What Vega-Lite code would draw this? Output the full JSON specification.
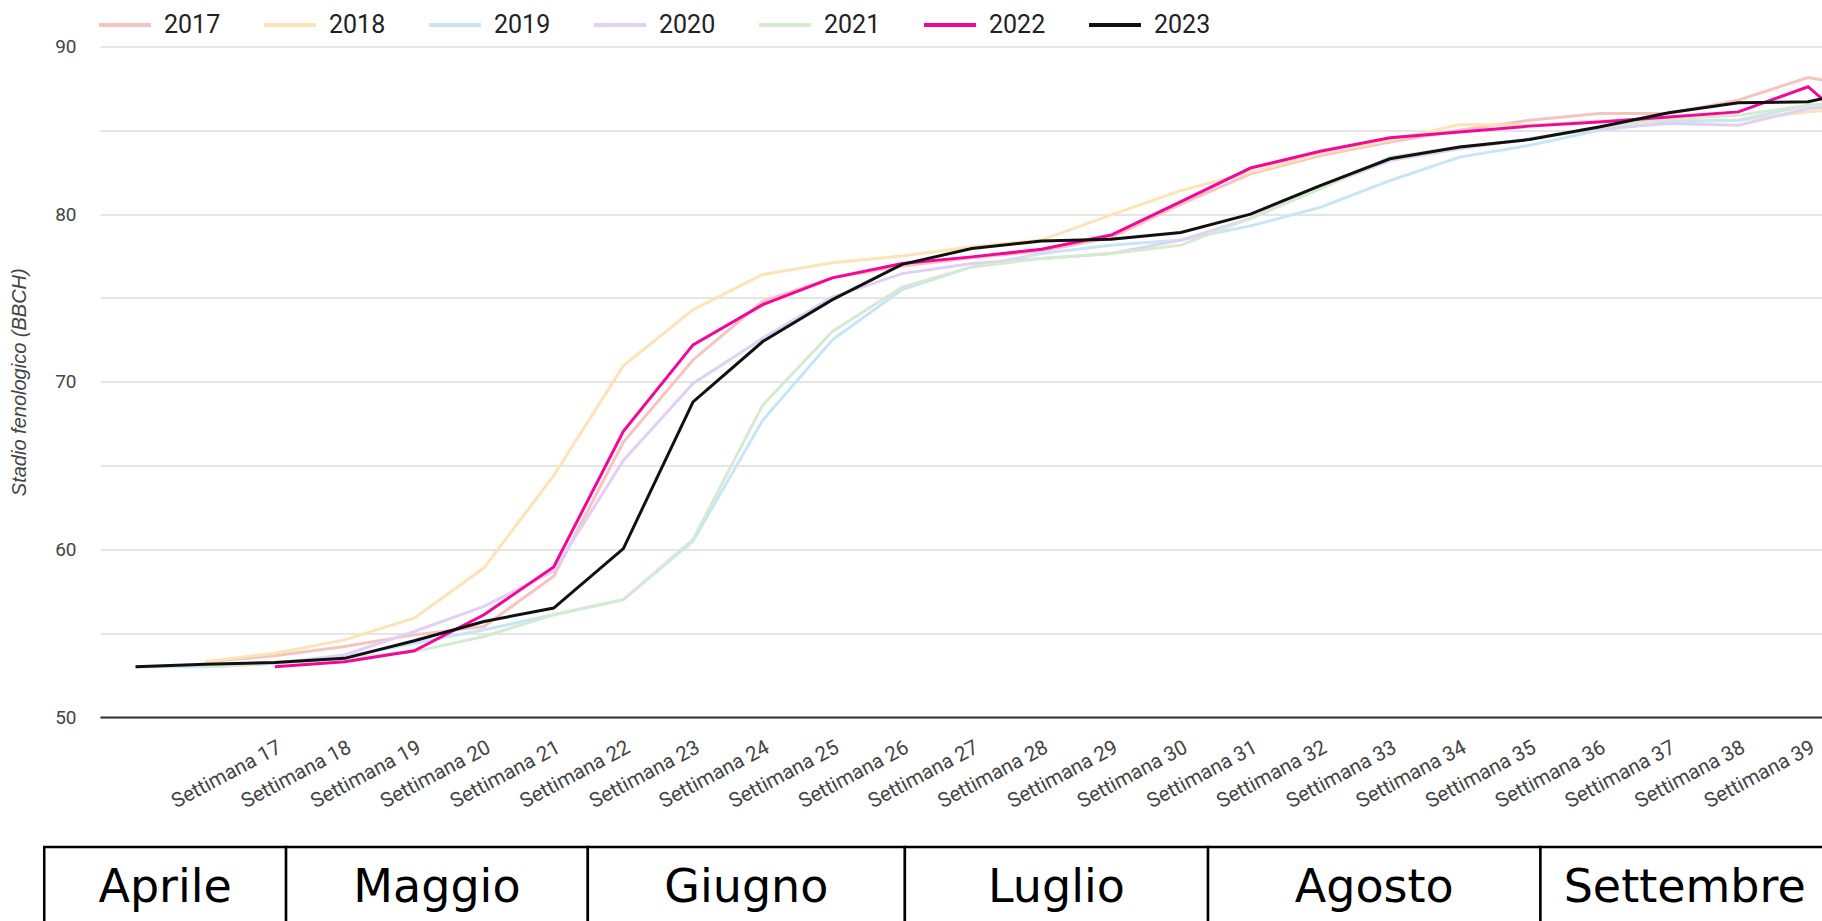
{
  "$schema": "https://vega.github.io/schema/vega-lite/v6.json",
  "autosize": {"type": "none"},
  "width": 1722,
  "height": 670.5,
  "padding": {"left": 100, "top": 46.5, "right": 0, "bottom": 204},
  "background": "white",
  "config": {"view": {"stroke": null}},
  "datasets": {
    "serie": [
      {"anno":"2017","settimana":16,"valore":53.3},{"anno":"2017","settimana":17,"valore":53.65},{"anno":"2017","settimana":18,"valore":54.2},{"anno":"2017","settimana":19,"valore":54.9},{"anno":"2017","settimana":20,"valore":55.4},{"anno":"2017","settimana":21,"valore":58.4},{"anno":"2017","settimana":22,"valore":66.4},{"anno":"2017","settimana":23,"valore":71.3},{"anno":"2017","settimana":24,"valore":74.8},{"anno":"2017","settimana":25,"valore":76.2},{"anno":"2017","settimana":26,"valore":76.9},{"anno":"2017","settimana":27,"valore":77.4},{"anno":"2017","settimana":28,"valore":77.8},{"anno":"2017","settimana":29,"valore":78.6},{"anno":"2017","settimana":30,"valore":80.6},{"anno":"2017","settimana":31,"valore":82.4},{"anno":"2017","settimana":32,"valore":83.5},{"anno":"2017","settimana":33,"valore":84.3},{"anno":"2017","settimana":34,"valore":85.0},{"anno":"2017","settimana":35,"valore":85.6},{"anno":"2017","settimana":36,"valore":86.0},{"anno":"2017","settimana":37,"valore":86.0},{"anno":"2017","settimana":38,"valore":86.8},{"anno":"2017","settimana":39,"valore":88.15},{"anno":"2017","settimana":40,"valore":87.4},
      {"anno":"2018","settimana":16,"valore":53.3},{"anno":"2018","settimana":17,"valore":53.8},{"anno":"2018","settimana":18,"valore":54.6},{"anno":"2018","settimana":19,"valore":55.9},{"anno":"2018","settimana":20,"valore":58.9},{"anno":"2018","settimana":21,"valore":64.4},{"anno":"2018","settimana":22,"valore":70.95},{"anno":"2018","settimana":23,"valore":74.3},{"anno":"2018","settimana":24,"valore":76.4},{"anno":"2018","settimana":25,"valore":77.1},{"anno":"2018","settimana":26,"valore":77.5},{"anno":"2018","settimana":27,"valore":78.05},{"anno":"2018","settimana":28,"valore":78.45},{"anno":"2018","settimana":29,"valore":79.95},{"anno":"2018","settimana":30,"valore":81.4},{"anno":"2018","settimana":31,"valore":82.5},{"anno":"2018","settimana":32,"valore":83.6},{"anno":"2018","settimana":33,"valore":84.4},{"anno":"2018","settimana":34,"valore":85.35},{"anno":"2018","settimana":35,"valore":85.3},{"anno":"2018","settimana":36,"valore":85.55},{"anno":"2018","settimana":37,"valore":85.6},{"anno":"2018","settimana":38,"valore":85.6},{"anno":"2018","settimana":39,"valore":86.1},{"anno":"2018","settimana":40,"valore":86.4},
      {"anno":"2019","settimana":15,"valore":53.0},{"anno":"2019","settimana":16,"valore":53.0},{"anno":"2019","settimana":17,"valore":53.2},{"anno":"2019","settimana":18,"valore":53.6},{"anno":"2019","settimana":19,"valore":54.4},{"anno":"2019","settimana":20,"valore":55.2},{"anno":"2019","settimana":21,"valore":56.1},{"anno":"2019","settimana":22,"valore":57.0},{"anno":"2019","settimana":23,"valore":60.5},{"anno":"2019","settimana":24,"valore":67.7},{"anno":"2019","settimana":25,"valore":72.5},{"anno":"2019","settimana":26,"valore":75.5},{"anno":"2019","settimana":27,"valore":76.85},{"anno":"2019","settimana":28,"valore":77.65},{"anno":"2019","settimana":29,"valore":78.15},{"anno":"2019","settimana":30,"valore":78.45},{"anno":"2019","settimana":31,"valore":79.3},{"anno":"2019","settimana":32,"valore":80.4},{"anno":"2019","settimana":33,"valore":82.0},{"anno":"2019","settimana":34,"valore":83.4},{"anno":"2019","settimana":35,"valore":84.1},{"anno":"2019","settimana":36,"valore":85.0},{"anno":"2019","settimana":37,"valore":85.5},{"anno":"2019","settimana":38,"valore":85.6},{"anno":"2019","settimana":39,"valore":86.5},{"anno":"2019","settimana":40,"valore":86.8},
      {"anno":"2020","settimana":16,"valore":53.0},{"anno":"2020","settimana":17,"valore":53.2},{"anno":"2020","settimana":18,"valore":53.7},{"anno":"2020","settimana":19,"valore":55.1},{"anno":"2020","settimana":20,"valore":56.6},{"anno":"2020","settimana":21,"valore":58.7},{"anno":"2020","settimana":22,"valore":65.3},{"anno":"2020","settimana":23,"valore":69.9},{"anno":"2020","settimana":24,"valore":72.6},{"anno":"2020","settimana":25,"valore":75.05},{"anno":"2020","settimana":26,"valore":76.45},{"anno":"2020","settimana":27,"valore":77.05},{"anno":"2020","settimana":28,"valore":77.35},{"anno":"2020","settimana":29,"valore":77.65},{"anno":"2020","settimana":30,"valore":78.45},{"anno":"2020","settimana":31,"valore":79.75},{"anno":"2020","settimana":32,"valore":81.6},{"anno":"2020","settimana":33,"valore":83.2},{"anno":"2020","settimana":34,"valore":83.9},{"anno":"2020","settimana":35,"valore":84.5},{"anno":"2020","settimana":36,"valore":85.1},{"anno":"2020","settimana":37,"valore":85.4},{"anno":"2020","settimana":38,"valore":85.3},{"anno":"2020","settimana":39,"valore":86.3},{"anno":"2020","settimana":40,"valore":86.6},
      {"anno":"2021","settimana":16,"valore":53.0},{"anno":"2021","settimana":17,"valore":53.2},{"anno":"2021","settimana":18,"valore":53.5},{"anno":"2021","settimana":19,"valore":53.9},{"anno":"2021","settimana":20,"valore":54.8},{"anno":"2021","settimana":21,"valore":56.1},{"anno":"2021","settimana":22,"valore":57.0},{"anno":"2021","settimana":23,"valore":60.6},{"anno":"2021","settimana":24,"valore":68.6},{"anno":"2021","settimana":25,"valore":73.0},{"anno":"2021","settimana":26,"valore":75.65},{"anno":"2021","settimana":27,"valore":76.85},{"anno":"2021","settimana":28,"valore":77.35},{"anno":"2021","settimana":29,"valore":77.65},{"anno":"2021","settimana":30,"valore":78.15},{"anno":"2021","settimana":31,"valore":79.75},{"anno":"2021","settimana":32,"valore":81.5},{"anno":"2021","settimana":33,"valore":83.4},{"anno":"2021","settimana":34,"valore":84.0},{"anno":"2021","settimana":35,"valore":84.45},{"anno":"2021","settimana":36,"valore":85.2},{"anno":"2021","settimana":37,"valore":85.7},{"anno":"2021","settimana":38,"valore":85.9},{"anno":"2021","settimana":39,"valore":86.5},{"anno":"2021","settimana":40,"valore":86.8},
      {"anno":"2022","settimana":17,"valore":53.0},{"anno":"2022","settimana":18,"valore":53.3},{"anno":"2022","settimana":19,"valore":53.95},{"anno":"2022","settimana":20,"valore":56.1},{"anno":"2022","settimana":21,"valore":58.95},{"anno":"2022","settimana":22,"valore":67.05},{"anno":"2022","settimana":23,"valore":72.2},{"anno":"2022","settimana":24,"valore":74.6},{"anno":"2022","settimana":25,"valore":76.2},{"anno":"2022","settimana":26,"valore":77.05},{"anno":"2022","settimana":27,"valore":77.45},{"anno":"2022","settimana":28,"valore":77.9},{"anno":"2022","settimana":29,"valore":78.75},{"anno":"2022","settimana":30,"valore":80.75},{"anno":"2022","settimana":31,"valore":82.75},{"anno":"2022","settimana":32,"valore":83.75},{"anno":"2022","settimana":33,"valore":84.55},{"anno":"2022","settimana":34,"valore":84.9},{"anno":"2022","settimana":35,"valore":85.25},{"anno":"2022","settimana":36,"valore":85.5},{"anno":"2022","settimana":37,"valore":85.8},{"anno":"2022","settimana":38,"valore":86.1},{"anno":"2022","settimana":39,"valore":87.6},{"anno":"2022","settimana":40,"valore":84.0},
      {"anno":"2023","settimana":15,"valore":53.0},{"anno":"2023","settimana":16,"valore":53.15},{"anno":"2023","settimana":17,"valore":53.25},{"anno":"2023","settimana":18,"valore":53.5},{"anno":"2023","settimana":19,"valore":54.55},{"anno":"2023","settimana":20,"valore":55.7},{"anno":"2023","settimana":21,"valore":56.5},{"anno":"2023","settimana":22,"valore":60.05},{"anno":"2023","settimana":23,"valore":68.8},{"anno":"2023","settimana":24,"valore":72.4},{"anno":"2023","settimana":25,"valore":74.9},{"anno":"2023","settimana":26,"valore":77.0},{"anno":"2023","settimana":27,"valore":77.95},{"anno":"2023","settimana":28,"valore":78.4},{"anno":"2023","settimana":29,"valore":78.5},{"anno":"2023","settimana":30,"valore":78.9},{"anno":"2023","settimana":31,"valore":80.0},{"anno":"2023","settimana":32,"valore":81.7},{"anno":"2023","settimana":33,"valore":83.3},{"anno":"2023","settimana":34,"valore":84.0},{"anno":"2023","settimana":35,"valore":84.45},{"anno":"2023","settimana":36,"valore":85.2},{"anno":"2023","settimana":37,"valore":86.05},{"anno":"2023","settimana":38,"valore":86.65},{"anno":"2023","settimana":39,"valore":86.7},{"anno":"2023","settimana":40,"valore":87.6}
    ],
    "mesi": [
      {"mese":"Aprile","inizio":13.69,"fine":17.16},
      {"mese":"Maggio","inizio":17.16,"fine":21.49},
      {"mese":"Giugno","inizio":21.49,"fine":26.04},
      {"mese":"Luglio","inizio":26.04,"fine":30.39},
      {"mese":"Agosto","inizio":30.39,"fine":35.16},
      {"mese":"Settembre","inizio":35.16,"fine":39.3}
    ]
  },
  "layer": [
    {
      "data": {"name": "serie"},
      "mark": {"type": "line", "strokeWidth": 3, "strokeJoin": "miter"},
      "encoding": {
        "x": {
          "field": "settimana", "type": "quantitative",
          "scale": {"domain": [14.49, 39.2], "nice": false, "zero": false},
          "axis": {
            "title": null,
            "values": [17,18,19,20,21,22,23,24,25,26,27,28,29,30,31,32,33,34,35,36,37,38,39],
            "labelExpr": "'Settimana ' + datum.value",
            "labelAngle": -28, "labelAlign": "right", "labelBaseline": "top",
            "labelPadding": 20, "labelFont": "Roboto", "labelFontSize": 20.5, "labelColor": "#444444",
            "labelOverlap": false, "labelFlush": false, "labelBound": false,
            "ticks": false, "grid": false,
            "domain": true, "domainColor": "#333333", "domainWidth": 2
          }
        },
        "y": {
          "field": "valore", "type": "quantitative",
          "scale": {"domain": [50, 90], "nice": false, "zero": false},
          "axis": {
            "title": "Stadio fenologico (BBCH)",
            "titleFont": "Liberation Sans", "titleFontStyle": "italic", "titleFontWeight": "normal",
            "titleFontSize": 20, "titleColor": "#444444", "titlePadding": 25,
            "values": [50,55,60,65,70,75,80,85,90],
            "labelExpr": "datum.value % 10 === 0 ? datum.label : ''",
            "labelFont": "Roboto", "labelFontSize": 19, "labelColor": "#444444", "labelPadding": 24,
            "ticks": false, "domain": false,
            "grid": true, "gridColor": "#dddddd", "gridWidth": 1.6
          }
        },
        "color": {
          "field": "anno", "type": "nominal",
          "scale": {
            "domain": ["2017","2018","2019","2020","2021","2022","2023"],
            "range": ["#f7c3bf","#fde3b6","#c6e5f6","#e0d1f3","#d6eacf","#f2079b","#111111"]
          },
          "legend": {
            "title": null, "orient": "none", "direction": "horizontal",
            "legendX": -3, "legendY": -49.5,
            "symbolType": "stroke", "symbolSize": 2704, "symbolStrokeWidth": 4,
            "labelFont": "Roboto", "labelFontSize": 25, "labelColor": "#222222",
            "labelOffset": 11, "columnPadding": 35
          }
        }
      }
    },
    {
      "data": {"name": "mesi"},
      "mark": {"type": "rect", "fill": "white", "stroke": "black", "strokeWidth": 2.5},
      "encoding": {
        "x": {"field": "inizio", "type": "quantitative"},
        "x2": {"field": "fine"},
        "y": {"datum": 42.25},
        "y2": {"datum": 36.0}
      }
    },
    {
      "data": {"name": "mesi"},
      "transform": [{"calculate": "(datum.inizio + datum.fine) / 2", "as": "centro"}],
      "mark": {"type": "text", "font": "DejaVu Sans", "fontSize": 46, "color": "black", "align": "center", "baseline": "alphabetic"},
      "encoding": {
        "x": {"field": "centro", "type": "quantitative"},
        "y": {"datum": 38.96},
        "text": {"field": "mese"}
      }
    }
  ]
}
